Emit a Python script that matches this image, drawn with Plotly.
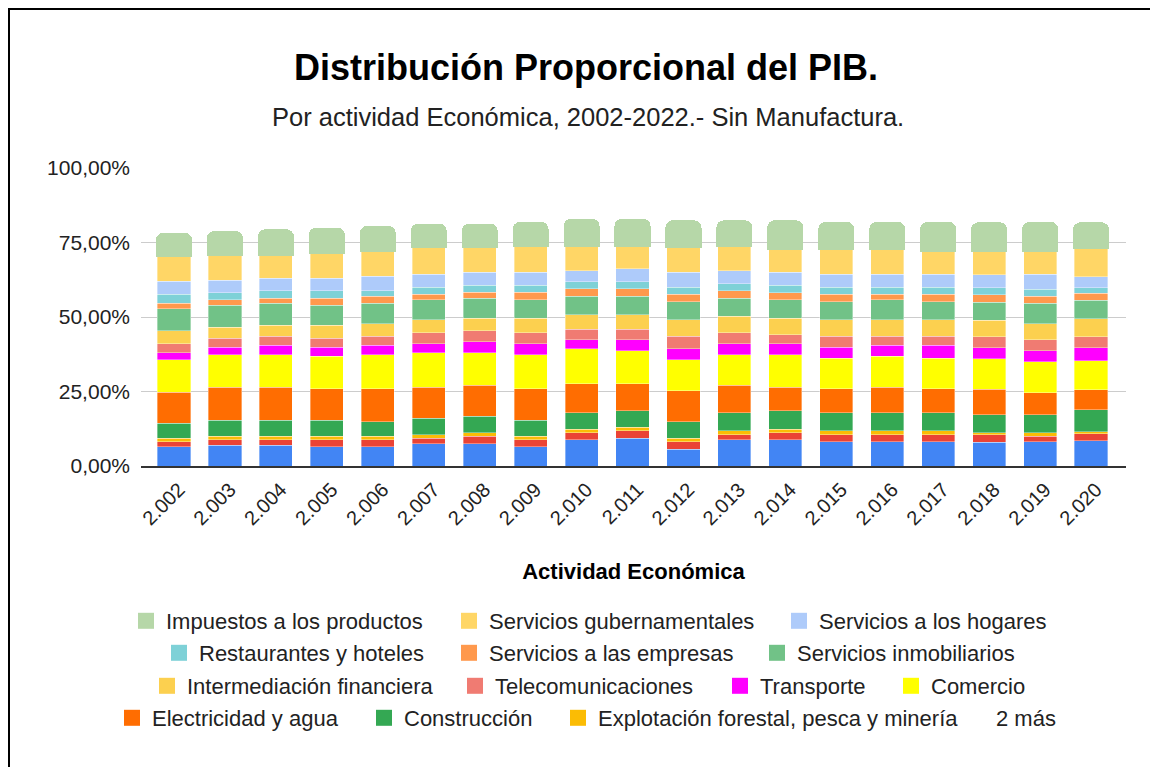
import numpy as np
import plotly.graph_objects as go

years = ["2.002", "2.003", "2.004", "2.005", "2.006", "2.007", "2.008", "2.009", "2.010",
         "2.011", "2.012", "2.013", "2.014", "2.015", "2.016", "2.017", "2.018", "2.019", "2.020"]

# values in percent of GDP, stacked bottom -> top
agricultura = [6.38, 6.94, 6.94, 6.38, 6.38, 7.50, 7.50, 6.38, 8.73, 9.29, 5.60, 8.73, 8.73, 8.06, 8.06, 8.06, 7.95, 8.06, 8.40]
ganaderia = [1.79, 1.79, 1.79, 2.35, 2.35, 1.79, 2.46, 2.35, 2.46, 2.46, 2.46, 1.79, 2.46, 2.47, 2.47, 2.47, 2.46, 1.91, 2.46]
explotacion = [1.12, 1.23, 1.23, 1.23, 1.23, 1.23, 1.23, 1.23, 1.12, 1.23, 1.23, 1.23, 1.12, 1.23, 1.23, 1.23, 0.67, 1.23, 0.67]
construccion = [5.04, 5.38, 5.38, 5.38, 4.82, 5.49, 5.49, 5.38, 5.60, 5.49, 5.49, 6.16, 6.16, 6.16, 6.16, 6.16, 6.10, 6.05, 7.39]
electricidad = [10.42, 11.09, 11.09, 10.53, 11.09, 10.42, 10.42, 10.53, 9.74, 9.18, 10.42, 9.18, 7.95, 7.95, 8.51, 7.95, 8.55, 7.39, 6.72]
comercio = [10.86, 10.97, 10.97, 10.97, 11.53, 11.65, 10.97, 11.53, 11.65, 10.97, 10.41, 10.30, 10.97, 10.30, 10.41, 10.30, 10.30, 10.30, 9.74]
transporte = [2.46, 2.46, 3.14, 3.02, 3.14, 3.02, 3.58, 3.70, 3.02, 3.70, 3.70, 3.70, 3.70, 3.70, 3.70, 4.37, 3.70, 3.69, 4.37]
telecom = [3.02, 3.02, 3.02, 3.02, 3.02, 3.70, 3.70, 3.70, 3.58, 3.58, 4.25, 3.69, 3.02, 3.69, 3.02, 3.02, 3.69, 3.70, 3.58]
intermediacion = [4.37, 3.70, 3.70, 4.37, 4.26, 4.26, 4.26, 4.82, 4.93, 4.93, 5.49, 5.49, 5.49, 5.49, 5.49, 5.49, 5.49, 5.49, 6.16]
inmobiliarios = [7.28, 7.39, 7.39, 6.72, 6.83, 6.72, 6.72, 6.16, 6.16, 6.16, 6.05, 6.05, 6.16, 6.05, 6.72, 6.05, 6.10, 6.72, 6.05]
empresas = [1.90, 1.79, 1.68, 2.35, 2.35, 1.79, 1.90, 2.46, 2.46, 2.46, 2.46, 2.46, 2.46, 2.46, 1.79, 2.46, 2.40, 2.46, 2.46]
restaurantes = [3.02, 2.46, 2.46, 2.46, 1.79, 2.46, 2.46, 2.46, 2.46, 2.46, 2.46, 2.46, 2.46, 2.46, 2.46, 2.46, 2.46, 2.35, 1.79]
hogares = [4.26, 4.14, 4.26, 4.26, 4.82, 4.37, 4.26, 4.26, 3.58, 4.26, 4.93, 4.26, 4.26, 4.26, 4.26, 4.26, 4.26, 4.93, 3.70]
gubernamentales = [8.62, 8.73, 8.06, 8.62, 8.73, 9.18, 8.62, 9.18, 8.62, 7.95, 8.62, 8.62, 7.95, 8.62, 8.62, 8.06, 8.10, 8.06, 9.85]
impuestos = [7.28, 7.28, 7.84, 7.84, 7.73, 7.28, 7.28, 7.28, 8.40, 8.40, 8.40, 7.84, 9.07, 8.51, 8.51, 9.07, 9.07, 9.07, 7.95]

series = [
    ("Agricultura", agricultura, "#4285F4"),
    ("Ganadería", ganaderia, "#EA4335"),
    ("Explotación forestal, pesca y minería", explotacion, "#FBBC04"),
    ("Construcción", construccion, "#34A853"),
    ("Electricidad y agua", electricidad, "#FF6D01"),
    ("Comercio", comercio, "#FFFF00"),
    ("Transporte", transporte, "#FF00FF"),
    ("Telecomunicaciones", telecom, "#F07B72"),
    ("Intermediación financiera", intermediacion, "#FCD04F"),
    ("Servicios inmobiliarios", inmobiliarios, "#71C287"),
    ("Servicios a las empresas", empresas, "#FF994D"),
    ("Restaurantes y hoteles", restaurantes, "#7ED1D7"),
    ("Servicios a los hogares", hogares, "#AECBFA"),
    ("Servicios gubernamentales", gubernamentales, "#FFD666"),
    ("Impuestos a los productos", impuestos, "#B6D7A8"),
]
colors = {n: c for n, _, c in series}

legend_rows = [
    ["Impuestos a los productos", "Servicios gubernamentales", "Servicios a los hogares"],
    ["Restaurantes y hoteles", "Servicios a las empresas", "Servicios inmobiliarios"],
    ["Intermediación financiera", "Telecomunicaciones", "Transporte", "Comercio"],
    ["Electricidad y agua", "Construcción", "Explotación forestal, pesca y minería", "2 más"],
]

fig = go.Figure()
for name, vals, col in series:
    top = name == "Impuestos a los productos"
    fig.add_trace(go.Bar(
        x=years, y=np.array(vals) / 100.0, name=name, legendgroup=name,
        showlegend=False,
        marker=dict(color=col,
                    line=dict(color=col if top else "rgba(255,255,255,0.45)", width=3 if top else 0.8)),
        hovertemplate="%{x}<br>" + name + ": %{y:.2%}<extra></extra>",
    ))

# the page adds an 8px body margin: work in page pixels and convert
OFF = 8
W, H = 1158, 767
PL, PR, PT, PB = 141, 1126, 168, 466        # plot area in page pixels
L, T = PL - OFF, PT - OFF
R, B = W - (PR - OFF), H - (PB - OFF)
pw, ph = PR - PL, PB - PT

def px_x(px):
    return (px - PL) / pw

def px_y(py):
    return (PB - py) / ph

def cont_x(px):
    return (px - OFF) / W

def cont_y(py):
    return 1 - (py - OFF) / H

font_family = "Arial, Liberation Sans, sans-serif"

# legend layout: one legend per entry so each sits where the reference puts it
row_y = [621, 653, 686, 718]
row_text_x = [[166, 489, 819], [199, 489, 797], [187, 495, 760, 931], [152, 404, 598, 996]]
legends = {}
k = 0
for row, yy, xs in zip(legend_rows, row_y, row_text_x):
    for name, tx in zip(row, xs):
        k += 1
        lid = "legend" if k == 1 else "legend%d" % k
        col = colors.get(name, "rgba(0,0,0,0)")
        fig.add_trace(go.Scatter(
            x=[None], y=[None], mode="markers", name=name,
            legendgroup=name if name in colors else None,
            marker=dict(symbol="square", size=20, color=col, line=dict(width=0)),
            legend=lid, showlegend=True, hoverinfo="skip",
        ))
        legends[lid] = dict(orientation="h", xref="container", x=cont_x(tx - 40), xanchor="left",
                            yref="container", y=cont_y(yy), yanchor="middle",
                            font=dict(family=font_family, size=22, color="#222222"),
                            bgcolor="rgba(0,0,0,0)", borderwidth=0)

fig.update_layout(
    width=W, height=H, autosize=False,
    margin=dict(l=L, r=R, t=T, b=B),
    paper_bgcolor="white", plot_bgcolor="white",
    barmode="stack", bargap=0.35, barcornerradius=6,
    separators=",.",
    font=dict(family=font_family, color="#222222"),
    title=dict(text="<b>Distribución Proporcional del PIB.</b>",
               xref="container", x=cont_x(586), xanchor="center",
               yref="container", y=cont_y(67), yanchor="middle",
               font=dict(family=font_family, size=36, color="#000000")),
    annotations=[dict(text="Por actividad Económica, 2002-2022.- Sin Manufactura.",
                      xref="paper", yref="paper", x=px_x(588), y=px_y(117),
                      xanchor="center", yanchor="middle", showarrow=False,
                      font=dict(family=font_family, size=25.5, color="#222222"))],
    shapes=[dict(type="rect", xref="paper", yref="paper",
                 x0=px_x(OFF + 1), x1=px_x(1180), y0=px_y(790), y1=px_y(OFF + 1),
                 line=dict(color="#000000", width=2), fillcolor="rgba(0,0,0,0)", layer="below")],
    xaxis=dict(type="category", range=[-0.648, 18.687], tickangle=-45,
               tickfont=dict(family=font_family, size=20, color="#222222"),
               ticklabelshift=5, ticklabelstandoff=2,
               showgrid=False, ticks="", showline=True, linecolor="#333333", linewidth=2,
               title=dict(text="<b>Actividad Económica</b>", standoff=35,
                          font=dict(family=font_family, size=22, color="#000000")),
               automargin=False, fixedrange=True),
    yaxis=dict(range=[0, 1], tickvals=[0, 0.25, 0.5, 0.75, 1.0], tickformat=".2%",
               tickfont=dict(family=font_family, size=21, color="#222222"),
               showgrid=True, gridcolor="#CCCCCC", gridwidth=1, zeroline=False,
               ticklabelstandoff=10, automargin=False, fixedrange=True),
    **legends,
)

fig.write_html("out.html")
